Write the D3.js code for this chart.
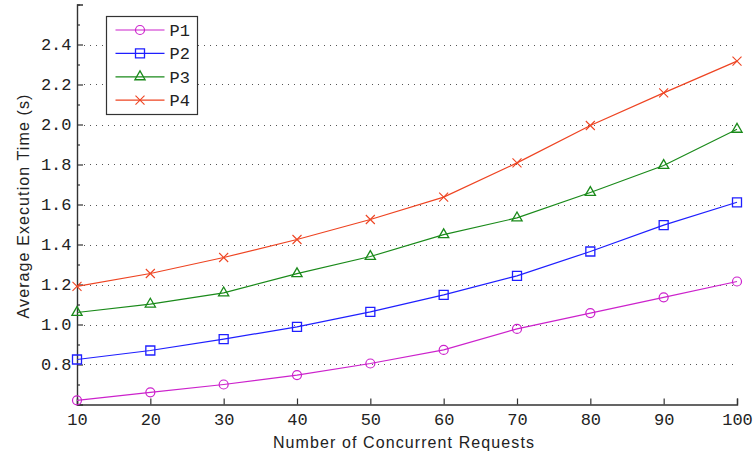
<!DOCTYPE html>
<html>
<head>
<meta charset="utf-8">
<script src="https://cdn.jsdelivr.net/npm/d3@7"></script>
<style>
  html, body { margin: 0; padding: 0; background: #fff; }
  svg { display: block; }
</style>
</head>
<body>
<svg id="chart" width="755" height="454"></svg>
<script>
// ---- data ----
const requests = [10, 20, 30, 40, 50, 60, 70, 80, 90, 100];
const P1 = [0.621, 0.661, 0.700, 0.747, 0.805, 0.873, 0.978, 1.057, 1.136, 1.215];
const P2 = [0.825, 0.870, 0.927, 0.988, 1.063, 1.148, 1.243, 1.365, 1.497, 1.611];
const P3 = [1.060, 1.102, 1.158, 1.254, 1.340, 1.449, 1.533, 1.660, 1.795, 1.976];
const P4 = [1.191, 1.255, 1.335, 1.425, 1.525, 1.637, 1.808, 1.995, 2.158, 2.317];
const seriesNames = ["P1", "P2", "P3", "P4"];
const yMajorTicks = [0.8, 1.0, 1.2, 1.4, 1.6, 1.8, 2.0, 2.2, 2.4];
const yMinorTicks = [0.6, 0.7, 0.9, 1.1, 1.3, 1.5, 1.7, 1.9, 2.1, 2.3, 2.5, 2.6];
const xTicks = [10, 20, 30, 40, 50, 60, 70, 80, 90, 100];
const xTitle = "Number of Concurrent Requests";
const yTitle = "Average Execution Time (s)";

// ---- styles ----
const colors = { P1: "#cc22cc", P2: "#1f1fff", P3: "#1a8a1a", P4: "#ee4422" };
const markers = { P1: "circle", P2: "square", P3: "triangle", P4: "x" };
const values = { P1, P2, P3, P4 };

const svg = d3.select("#chart");
const x = d3.scaleLinear().domain([10, 100]).range([77, 737]);
const y = d3.scaleLinear().domain([0.6, 2.6]).range([404.5, 4.5]);

// grid
svg.append("g").selectAll("line").data(yMajorTicks).join("line")
  .attr("x1", x(10) + 7).attr("x2", x(100))
  .attr("y1", d => Math.round(y(d)) + 0.5).attr("y2", d => Math.round(y(d)) + 0.5)
  .attr("stroke", "#555").attr("stroke-width", 1)
  .attr("stroke-dasharray", "1 5");

const tickFont = "'Liberation Mono', 'DejaVu Sans Mono', monospace";
const titleFont = "'Liberation Sans', Arial, sans-serif";

// y minor ticks
const yMinor = svg.append("g").attr("transform", `translate(${x(10)},0)`)
  .call(d3.axisLeft(y).tickValues(yMinorTicks).tickSize(-3).tickFormat(""));
yMinor.select(".domain").remove();
// y major
const yAx = svg.append("g").attr("transform", `translate(${x(10)},0)`)
  .call(d3.axisLeft(y).tickValues(yMajorTicks).tickSize(-6).tickPadding(5.5).tickFormat(d3.format(".1f")));
yAx.selectAll("text").attr("font-family", tickFont).attr("font-size", 17).attr("fill", "#222");

// x axis
const xAx = svg.append("g").attr("transform", `translate(0,${y(0.6)})`)
  .call(d3.axisBottom(x).tickValues(xTicks).tickSize(-6).tickPadding(8.5).tickFormat(d3.format("d")));
xAx.selectAll("text").attr("font-family", tickFont).attr("font-size", 17).attr("fill", "#222");

[yMinor, yAx, xAx].forEach(g => {
  g.selectAll(".tick line").attr("stroke", "#333").attr("stroke-width", 1.2);
  g.select(".domain").attr("stroke", "#333").attr("stroke-width", 1.4);
});

// titles
svg.append("text").attr("x", 404).attr("y", 448)
  .attr("text-anchor", "middle").attr("font-family", titleFont).attr("font-size", 16)
  .attr("letter-spacing", "1.1px").attr("fill", "#222").text(xTitle);
svg.append("text").attr("transform", "translate(29,206) rotate(-90)")
  .attr("text-anchor", "middle").attr("font-family", titleFont).attr("font-size", 16)
  .attr("letter-spacing", "1.1px").attr("fill", "#222").text(yTitle);

// marker drawing
function drawMarker(g, type, color) {
  if (type === "circle") {
    g.append("circle").attr("r", 4.5).attr("fill", "none").attr("stroke", color).attr("stroke-width", 1.2);
  } else if (type === "square") {
    g.append("path").attr("d", d3.symbol(d3.symbolSquare, 81)()).attr("fill", "none").attr("stroke", color).attr("stroke-width", 1.3);
  } else if (type === "triangle") {
    g.append("path").attr("d", d3.symbol(d3.symbolTriangle, 45)()).attr("fill", "none").attr("stroke", color).attr("stroke-width", 1.3);
  } else {
    g.append("path").attr("d", "M-4.5,-4.5L4.5,4.5M-4.5,4.5L4.5,-4.5").attr("fill", "none").attr("stroke", color).attr("stroke-width", 1.1);
  }
}

// series
const line = d3.line().x(d => x(d[0])).y(d => y(d[1]));
seriesNames.forEach(name => {
  const pts = requests.map((r, i) => [r, values[name][i]]);
  svg.append("path").datum(pts).attr("d", line)
    .attr("fill", "none").attr("stroke", colors[name]).attr("stroke-width", 1.2);
  svg.append("g").selectAll("g").data(pts).join("g")
    .attr("transform", d => `translate(${x(d[0])},${y(d[1])})`)
    .each(function() { drawMarker(d3.select(this), markers[name], colors[name]); });
});

// legend
const legend = svg.append("g");
legend.append("rect").attr("x", 106.5).attr("y", 16.5).attr("width", 91).attr("height", 98)
  .attr("fill", "#fff").attr("stroke", "#333").attr("stroke-width", 1.2);
seriesNames.forEach((name, i) => {
  const cy = 30 + i * 23.4;
  legend.append("line").attr("x1", 115.5).attr("x2", 164.5).attr("y1", cy).attr("y2", cy)
    .attr("stroke", colors[name]).attr("stroke-width", 1.2);
  drawMarker(legend.append("g").attr("transform", `translate(140,${cy})`), markers[name], colors[name]);
  legend.append("text").attr("x", 169.5).attr("y", cy).attr("dy", "0.35em")
    .attr("font-family", tickFont).attr("font-size", 17).attr("fill", "#222").text(name);
});
</script>
</body>
</html>
